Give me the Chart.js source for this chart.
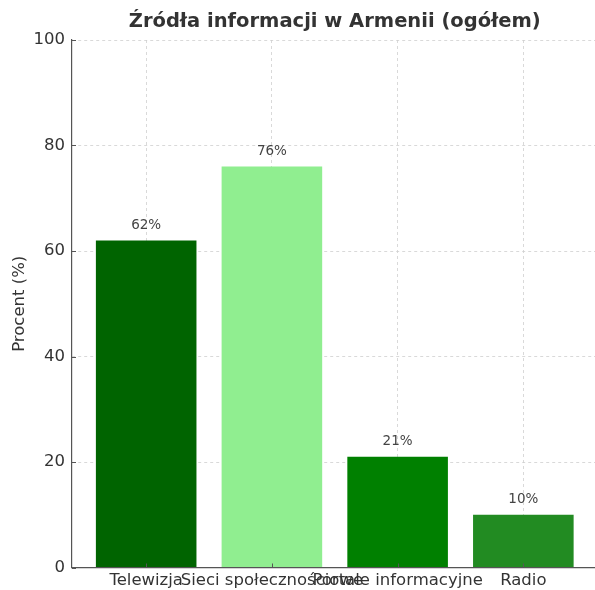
<!DOCTYPE html>
<html>
<head>
<meta charset="utf-8">
<script src="https://cdn.jsdelivr.net/npm/chart.js@4/dist/chart.umd.min.js"></script>
<style>
  body { margin: 0; background: #fff; }
</style>
</head>
<body>
<canvas id="chart" width="595" height="590"></canvas>
<script>
// data
var categories = ["Telewizja", "Sieci społecznościowe", "Portale informacyjne", "Radio"];
var values = [62, 76, 21, 10];
var barColors = ["#006400", "#90ee90", "#008000", "#228b22"];
var yTicks = [0, 20, 40, 60, 80, 100];

var textColor = "#333333";
var spineColor = "#555555";
var gridColor = "#d0d0d0";

// value labels above the bars
var valueLabels = {
    id: "valueLabels",
    afterDatasetsDraw: function(chart) {
        var ctx = chart.ctx;
        var meta = chart.getDatasetMeta(0);
        ctx.save();
        ctx.font = "13.5px 'DejaVu Sans'";
        ctx.fillStyle = "#444444";
        ctx.textAlign = "center";
        ctx.textBaseline = "middle";
        meta.data.forEach(function(bar, i) {
            ctx.fillText(values[i] + "%", bar.x, bar.y - 15);
        });
        ctx.restore();
    }
};

// inward tick marks and title
var extras = {
    id: "extras",
    afterDraw: function(chart) {
        var ctx = chart.ctx;
        var area = chart.chartArea;
        var xs = chart.scales.x;
        var ys = chart.scales.y;
        ctx.save();
        ctx.strokeStyle = spineColor;
        ctx.lineWidth = 1;
        ctx.beginPath();
        yTicks.forEach(function(v) {
            var py = Math.round(ys.getPixelForValue(v)) + 0.5;
            ctx.moveTo(area.left, py);
            ctx.lineTo(area.left + 4, py);
        });
        categories.forEach(function(_, i) {
            var px = Math.round(xs.getPixelForValue(i)) + 0.5;
            ctx.moveTo(px, area.bottom);
            ctx.lineTo(px, area.bottom - 4);
        });
        ctx.stroke();

        var right = xs.getPixelForValue(3.59);
        ctx.font = "bold 19.5px 'DejaVu Sans'";
        ctx.fillStyle = textColor;
        ctx.textAlign = "center";
        ctx.textBaseline = "middle";
        ctx.fillText("Źródła informacji w Armenii (ogółem)", (area.left + right) / 2, 22);
        ctx.restore();
    }
};

var ctx = document.getElementById("chart").getContext("2d");
new Chart(ctx, {
    type: "bar",
    data: {
        datasets: [{
            data: values.map(function(v, i) { return { x: i, y: v }; }),
            backgroundColor: barColors,
            borderWidth: 0,
            barPercentage: 1,
            categoryPercentage: 0.8
        }]
    },
    options: {
        responsive: false,
        animation: false,
        devicePixelRatio: 1,
        layout: { padding: { top: 40, left: 0, right: 0, bottom: 0 } },
        plugins: {
            legend: { display: false },
            tooltip: { enabled: false }
        },
        scales: {
            x: {
                type: "linear",
                min: -0.59,
                max: 3.57,
                offset: false,
                z: 1,
                afterBuildTicks: function(scale) {
                    scale.ticks = categories.map(function(_, i) { return { value: i }; });
                },
                afterFit: function(scale) { scale.height = 22.5; },
                ticks: {
                    color: textColor,
                    font: { family: "DejaVu Sans", size: 16.5 },
                    padding: 3,
                    maxRotation: 0,
                    autoSkip: false,
                    callback: function(v) { return categories[v]; }
                },
                grid: {
                    offset: false,
                    color: gridColor,
                    lineWidth: 0.8,
                    drawTicks: false
                },
                border: { color: spineColor, width: 1.2, dash: [3, 3] }
            },
            y: {
                min: 0,
                max: 100,
                z: 1,
                afterBuildTicks: function(scale) {
                    scale.ticks = yTicks.map(function(v) { return { value: v }; });
                },
                afterFit: function(scale) { scale.width = 72; },
                ticks: {
                    color: textColor,
                    font: { family: "DejaVu Sans", size: 16.5 },
                    padding: 7,
                    autoSkip: false
                },
                grid: {
                    color: gridColor,
                    lineWidth: 0.8,
                    drawTicks: false
                },
                border: { color: spineColor, width: 1.2, dash: [3, 3] },
                title: {
                    display: true,
                    text: "Procent (%)",
                    color: textColor,
                    font: { family: "DejaVu Sans", size: 16.5 },
                    padding: { top: 10, bottom: 4 }
                }
            }
        }
    },
    plugins: [valueLabels, extras]
});
</script>
</body>
</html>
